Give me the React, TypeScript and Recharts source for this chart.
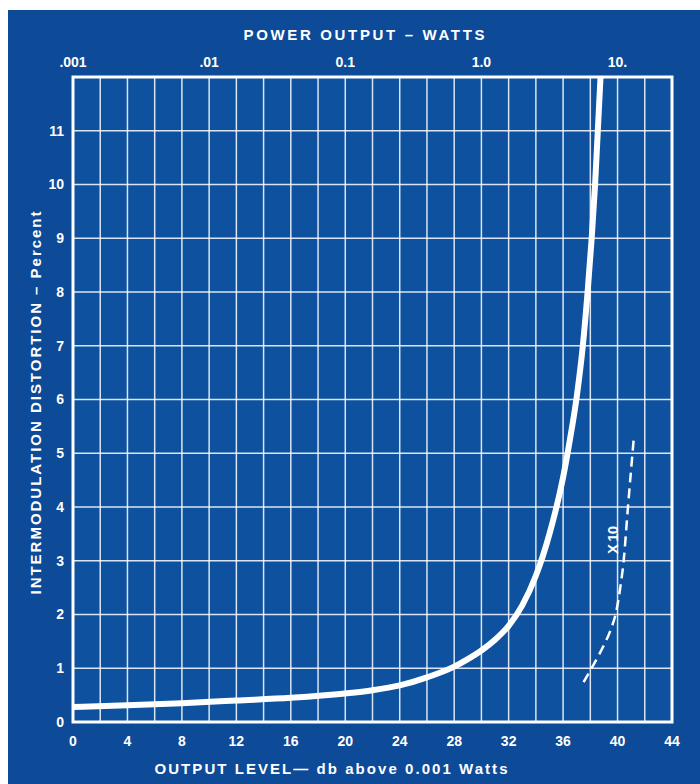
import { LineChart, Line, XAxis, YAxis, CartesianGrid, ReferenceArea, Label } from "recharts"

// output level (db above 1 mW) vs. intermodulation distortion (%)
const levelDb = [0, 4, 8, 12, 16, 20, 22, 24, 26, 28, 29, 30, 31, 32, 33, 34, 35, 36, 36.5, 37.0, 37.45, 37.8, 38.1, 38.35, 38.55, 38.75]
const distortionPct = [0.28, 0.31, 0.35, 0.4, 0.45, 0.53, 0.59, 0.68, 0.83, 1.03, 1.17, 1.33, 1.53, 1.79, 2.17, 2.72, 3.5, 4.55, 5.25, 6.05, 7.0, 8.0, 9.0, 10.0, 11.0, 12.0]

// same measurement with the distortion scale multiplied by 10
const x10Db = [37.5, 38.2, 38.9, 39.5, 39.9, 40.2, 40.45, 40.75, 41.2]
const x10Pct = [0.74, 1.05, 1.38, 1.72, 2.05, 2.5, 3.0, 3.95, 5.3]

const dbTicks = [0, 2, 4, 6, 8, 10, 12, 14, 16, 18, 20, 22, 24, 26, 28, 30, 32, 34, 36, 38, 40, 42, 44]
const pctTicks = [0, 1, 2, 3, 4, 5, 6, 7, 8, 9, 10, 11, 12]
const wattTicks = [0, 10, 20, 30, 40]
const wattLabels = [".001", ".01", "0.1", "1.0", "10."]

const mainCurve = levelDb.map((db, i) => ({ db, pct: distortionPct[i] }))
const x10Curve = x10Db.map((db, i) => ({ db, pct: x10Pct[i] }))

const FONT = "'Liberation Sans', Arial, sans-serif"
const tickStyle = { fill: "#ffffff", fontSize: 14, fontWeight: 700, fontFamily: FONT }
const titleStyle = { fill: "#ffffff", fontSize: 15, fontWeight: 700, fontFamily: FONT }

export default function App() {
  return (
    <div style={{ position: "absolute", left: 0, top: 0, width: 700, height: 784, background: "#ffffff", overflow: "hidden" }}>
      <div style={{ position: "absolute", left: 8, top: 10, width: 692, height: 774, background: "#0d4a98" }} />
      <div style={{ position: "absolute", left: 0, top: 0 }}>
        <LineChart width={700} height={784} margin={{ top: 0, right: 28, bottom: 0, left: 0 }}>
          <CartesianGrid
            xAxisId="db"
            fill="#0e519e"
            stroke="rgba(255,255,255,0.85)"
            strokeWidth={1.5}
          />
          <XAxis
            xAxisId="db"
            dataKey="db"
            type="number"
            domain={[0, 44]}
            allowDataOverflow
            ticks={dbTicks}
            interval={0}
            tickFormatter={(v: number) => (v % 4 === 0 ? String(v) : "")}
            height={62}
            axisLine={false}
            tickLine={false}
            tickSize={0}
            tickMargin={14}
            tick={tickStyle}
          >
            <Label
              content={() => (
                <text x={331} y={768} textAnchor="middle" dominantBaseline="central" textLength={353} lengthAdjust="spacing" style={titleStyle}>
                  OUTPUT LEVEL— db above 0.001 Watts
                </text>
              )}
            />
          </XAxis>
          {/* power scale: 0 db = 1 mW, so every 10 db is a decade of watts */}
          <XAxis
            xAxisId="watts"
            dataKey="db"
            orientation="top"
            type="number"
            domain={[0, 44]}
            allowDataOverflow
            ticks={wattTicks}
            interval={0}
            tickFormatter={(v: number) => wattLabels[wattTicks.indexOf(v)] ?? ""}
            height={77}
            axisLine={false}
            tickLine={false}
            tickSize={0}
            tickMargin={10}
            tick={tickStyle}
          >
            <Label
              content={() => (
                <text x={364} y={34} textAnchor="middle" dominantBaseline="central" textLength={241} lengthAdjust="spacing" style={titleStyle}>
                  POWER OUTPUT – WATTS
                </text>
              )}
            />
          </XAxis>
          <YAxis
            type="number"
            domain={[0, 12]}
            allowDataOverflow
            ticks={pctTicks}
            interval={0}
            tickFormatter={(v: number) => (v === 12 ? "" : String(v))}
            width={73}
            axisLine={false}
            tickLine={false}
            tickSize={0}
            tickMargin={9}
            tick={tickStyle}
          >
            <Label
              content={() => (
                <text
                  x={35}
                  y={403}
                  transform="rotate(-90 35 403)"
                  textAnchor="middle"
                  dominantBaseline="central"
                  textLength={383}
                  lengthAdjust="spacing"
                  style={titleStyle}
                >
                  INTERMODULATION DISTORTION – Percent
                </text>
              )}
            />
          </YAxis>
          <ReferenceArea
            xAxisId="db"
            x1={0}
            x2={44}
            y1={0}
            y2={12}
            fill="none"
            stroke="#ffffff"
            strokeWidth={3}
            ifOverflow="visible"
          />
          {/* keeps the top watts axis tied to the same data range */}
          <Line
            xAxisId="watts"
            data={mainCurve}
            dataKey="pct"
            stroke="none"
            dot={false}
            activeDot={false}
            legendType="none"
            isAnimationActive={false}
          />
          <Line
            xAxisId="db"
            data={mainCurve}
            dataKey="pct"
            type="monotone"
            stroke="#ffffff"
            strokeWidth={6}
            dot={false}
            isAnimationActive={false}
          />
          <Line
            xAxisId="db"
            data={x10Curve}
            dataKey="pct"
            type="monotone"
            stroke="#ffffff"
            strokeWidth={2.5}
            strokeDasharray="10 6"
            dot={false}
            isAnimationActive={false}
          >
            <Label
              content={() => (
                <text
                  x={612}
                  y={540}
                  transform="rotate(-90 612 540)"
                  textAnchor="middle"
                  dominantBaseline="central"
                  textLength={28}
                  lengthAdjust="spacing"
                  style={titleStyle}
                >
                  X 10
                </text>
              )}
            />
          </Line>
        </LineChart>
      </div>
    </div>
  )
}
